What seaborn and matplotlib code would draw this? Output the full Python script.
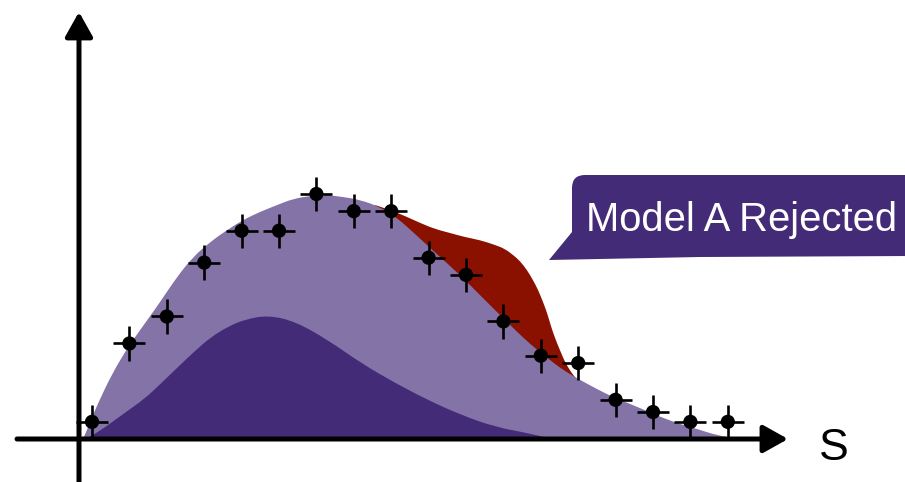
import matplotlib
matplotlib.use("Agg")
import matplotlib.pyplot as plt
from matplotlib.path import Path
from matplotlib.patches import PathPatch
import seaborn as sns

sns.set_theme(style="white")
plt.rcParams["font.family"] = ["Liberation Sans", "DejaVu Sans"]

# Observed data: bin centres in S and event counts
bin_centres = [0.5, 1.5, 2.5, 3.5, 4.5, 5.5, 6.5, 7.5, 8.5,
               9.5, 10.5, 11.5, 12.5, 13.5, 14.5, 15.5, 16.5, 17.5]
counts = [7, 39, 50, 72, 85, 85, 100, 93, 93,
          74, 67, 48, 34, 31, 16, 11, 7, 7]
count_err = 7
bin_half_width = 0.43

# Total expectation (background + signal)
total_s = [0.26, 0.39, 0.58, 0.77, 0.93, 1.28, 1.65, 2.00, 2.32, 2.77, 3.20,
           3.66, 4.11, 4.54, 4.99, 5.45, 5.87, 6.33, 6.78, 7.21, 7.67, 8.20,
           8.66, 9.08, 9.54, 9.99, 10.42, 10.87, 11.33, 11.76, 12.21, 12.67,
           13.09, 13.55, 14.00, 14.43, 14.89, 15.34, 15.77, 16.22, 16.68,
           17.10, 17.48, 17.69]
total_y = [0, 4.5, 11.8, 18.0, 23.3, 33.1, 41.6, 49.0, 55.9, 66.1, 74.3,
           80.4, 85.3, 89.4, 92.7, 95.5, 98.0, 99.2, 99.6, 98.8, 97.6, 94.7,
           90.2, 84.5, 78.0, 71.8, 65.7, 58.8, 51.8, 45.3, 38.8, 33.1,
           28.2, 24.1, 20.4, 17.1, 14.3, 11.4, 8.6, 6.1, 4.1,
           2.0, 0.8, 0]

# Signal component
signal_s = [0.34, 0.71, 1.01, 1.38, 1.92, 2.32, 2.80, 3.25, 3.68, 4.14, 4.59,
            5.21, 5.93, 6.81, 7.69, 8.60, 9.48, 10.37, 11.28, 12.16, 12.80]
signal_y = [0, 3.3, 6.6, 10.7, 16.6, 22.3, 29.4, 35.9, 41.6, 45.9, 48.8,
            50.5, 48.0, 40.4, 31.0, 22.9, 15.9, 9.8, 4.9, 2.4, 0]

# Model A prediction (excess over the total expectation)
model_a_s = [8.07, 8.47, 8.87, 9.27, 9.67, 10.07, 10.47, 10.87, 11.28, 11.54,
             11.76, 11.94, 12.13, 12.29, 12.43, 12.56, 12.67, 12.77, 12.88,
             13.01, 13.17, 13.40, 13.48]
model_a_y = [95.5, 93.5, 91.0, 88.2, 85.7, 84.1, 82.4, 81.2, 79.2, 77.6,
             75.1, 72.7, 69.0, 64.9, 60.8, 55.9, 51.4, 46.1, 41.2,
             36.3, 30.6, 25.3, 24.5]

LIGHT = "#8373A6"
DARK = "#442B77"
RED = "#8A1100"


def smooth_area(ax, xs, ys, color, z):
    """Fill the area under a curve, rounding the corners between
    successive points with quadratic Bezier segments."""
    verts = [(xs[0], 0), (xs[0], ys[0])]
    codes = [Path.MOVETO, Path.LINETO]
    for i in range(1, len(xs) - 1):
        mid = ((xs[i] + xs[i + 1]) / 2, (ys[i] + ys[i + 1]) / 2)
        verts += [(xs[i], ys[i]), mid]
        codes += [Path.CURVE3, Path.CURVE3]
    verts += [(xs[-1], ys[-1]), (xs[-1], 0), (xs[0], 0)]
    codes += [Path.LINETO, Path.LINETO, Path.CLOSEPOLY]
    ax.add_patch(PathPatch(Path(verts, codes), facecolor=color,
                           edgecolor="none", zorder=z))


fig = plt.figure(figsize=(9.05, 4.82), dpi=100)
ax = fig.add_axes([0, 0, 1, 1])
ax.set_xlim(-1.960, 22.238)
ax.set_ylim(-17.55, 179.18)
ax.axis("off")

smooth_area(ax, model_a_s, model_a_y, RED, 1)
smooth_area(ax, total_s, total_y, LIGHT, 2)
smooth_area(ax, signal_s, signal_y, DARK, 3)

# Coordinate axes with arrow heads
arrow_kw = dict(arrowstyle="-|>,head_length=0.75,head_width=0.42",
                mutation_scale=20, lw=3.6, color="black",
                shrinkA=0, shrinkB=0)
ax.annotate("", xy=(19.11, 0), xytext=(-1.505, 0),
            arrowprops=arrow_kw, zorder=4)
ax.annotate("", xy=(0.152, 174.3), xytext=(0.152, -17.6),
            arrowprops=arrow_kw, zorder=4)
ax.text(19.93, -8.6, "S", fontsize=32, ha="left", va="baseline",
        color="black", zorder=4)

# Data points with error bars
ax.errorbar(bin_centres, counts, xerr=bin_half_width, yerr=count_err,
            fmt="none", ecolor="black", elinewidth=1.9, capsize=0, zorder=5)
sns.scatterplot(x=bin_centres, y=counts, color="black", s=105,
                edgecolor="none", ax=ax, zorder=6, legend=False)

# Speech-bubble label
W, H = 905.0, 482.0
def fr(px, py):
    return (px / W, 1 - py / H)

verts = [fr(549, 260), fr(572, 232), fr(572, 188), fr(572, 175), fr(585, 175),
         fr(912, 175), fr(912, 256), fr(700, 257), fr(549, 260)]
codes = [Path.MOVETO, Path.LINETO, Path.LINETO, Path.CURVE3, Path.CURVE3,
         Path.LINETO, Path.LINETO, Path.LINETO, Path.CLOSEPOLY]
bubble = PathPatch(Path(verts, codes), facecolor=DARK, edgecolor="none",
                   transform=ax.transAxes, zorder=7, clip_on=False)
ax.add_patch(bubble)
tx, ty = fr(586, 231)
ax.text(tx, ty, "Model A Rejected", transform=ax.transAxes, fontsize=28.8,
        color="white", ha="left", va="baseline", zorder=8)

fig.savefig("out.png", dpi=100)
